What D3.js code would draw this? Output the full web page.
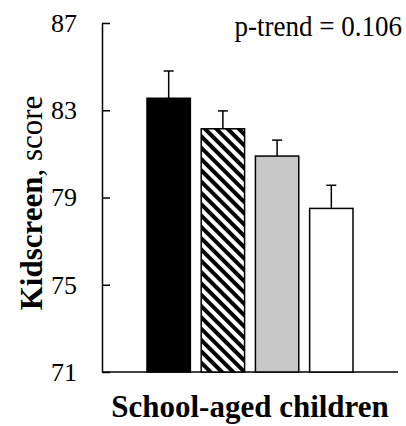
<!DOCTYPE html>
<html>
<head>
<meta charset="utf-8">
<script src="https://cdn.jsdelivr.net/npm/d3@7"></script>
<style>
  body { margin: 0; background: #fff; }
  svg text { font-family: "Liberation Serif", "Times New Roman", serif; fill: #000; }
</style>
</head>
<body>
<div id="chart"></div>
<script>
// data
var groups = ["g1", "g2", "g3", "g4"];
var means = [83.55, 82.15, 80.9, 78.5];
var errors = [1.25, 0.82, 0.73, 1.06];
var fills = ["black", "url(#hatch)", "#c8c8c8", "white"];
var yTicks = [71, 75, 79, 83, 87];

var width = 406, height = 426;
var margin = { top: 23, left: 102, right: 8, bottom: 54 };
var w = width - margin.left - margin.right,
    h = height - margin.top - margin.bottom;

var svg = d3.select("#chart").append("svg")
    .attr("width", width)
    .attr("height", height);

// diagonal stripes for the second bar
svg.append("defs").append("pattern")
    .attr("id", "hatch")
    .attr("patternUnits", "userSpaceOnUse")
    .attr("width", 8)
    .attr("height", 8)
    .attr("patternTransform", "rotate(45)")
    .call(function (p) {
      p.append("rect").attr("width", 8).attr("height", 8).attr("fill", "white");
      p.append("rect").attr("width", 8).attr("height", 4).attr("fill", "black");
    });

var g = svg.append("g")
    .attr("transform", "translate(" + margin.left + "," + margin.top + ")");

var x = d3.scaleBand()
    .domain(groups)
    .range([0, w])
    .paddingInner(0.2)
    .paddingOuter(0.83);

var y = d3.scaleLinear()
    .domain([71, 87])
    .range([h, 0]);

// y axis, ticks pointing inward
var yAxis = d3.axisLeft(y)
    .tickValues(yTicks)
    .tickSize(-8)
    .tickSizeOuter(0)
    .tickPadding(25);

var ya = g.append("g").call(yAxis);
ya.select(".domain").attr("stroke", "#000").attr("stroke-width", 1.5);
ya.selectAll(".tick line").attr("stroke", "#000").attr("stroke-width", 1.5);
ya.selectAll(".tick text")
    .attr("font-size", "26px")
    .attr("font-family", "Liberation Serif, serif");

// baseline
g.append("line")
    .attr("x1", 0).attr("x2", w)
    .attr("y1", h).attr("y2", h)
    .attr("stroke", "#000").attr("stroke-width", 1.5);

var data = groups.map(function (d, i) {
  return { key: d, mean: means[i], err: errors[i], fill: fills[i] };
});

// error bars first so the bar border sits on top
g.selectAll(".err")
    .data(data)
    .enter().append("line")
    .attr("class", "err")
    .attr("x1", function (d) { return x(d.key) + x.bandwidth() / 2; })
    .attr("x2", function (d) { return x(d.key) + x.bandwidth() / 2; })
    .attr("y1", function (d) { return y(d.mean); })
    .attr("y2", function (d) { return y(d.mean + d.err); })
    .attr("stroke", "#000").attr("stroke-width", 1.5);

g.selectAll(".cap")
    .data(data)
    .enter().append("line")
    .attr("class", "cap")
    .attr("x1", function (d) { return x(d.key) + x.bandwidth() / 2 - 5; })
    .attr("x2", function (d) { return x(d.key) + x.bandwidth() / 2 + 5; })
    .attr("y1", function (d) { return y(d.mean + d.err); })
    .attr("y2", function (d) { return y(d.mean + d.err); })
    .attr("stroke", "#000").attr("stroke-width", 1.5);

g.selectAll(".bar")
    .data(data)
    .enter().append("rect")
    .attr("class", "bar")
    .attr("x", function (d) { return x(d.key); })
    .attr("width", x.bandwidth())
    .attr("y", function (d) { return y(d.mean); })
    .attr("height", function (d) { return h - y(d.mean); })
    .attr("fill", function (d) { return d.fill; })
    .attr("stroke", "#000")
    .attr("stroke-width", 1.5);

// p-trend note
svg.append("text")
    .text("p-trend = 0.106")
    .attr("transform", "translate(402,36) scale(1,1.08)")
    .attr("text-anchor", "end")
    .attr("font-size", "27px");

// x title
svg.append("text")
    .text("School-aged children")
    .attr("x", 250)
    .attr("y", 417)
    .attr("text-anchor", "middle")
    .attr("font-weight", "bold")
    .attr("font-size", "31px");

// y title
var yt = svg.append("text")
    .attr("transform", "translate(42,203) rotate(-90)")
    .attr("text-anchor", "middle")
    .attr("font-size", "31px");
yt.append("tspan").attr("font-weight", "bold").text("Kidscreen");
yt.append("tspan").text(", score");
</script>
</body>
</html>
